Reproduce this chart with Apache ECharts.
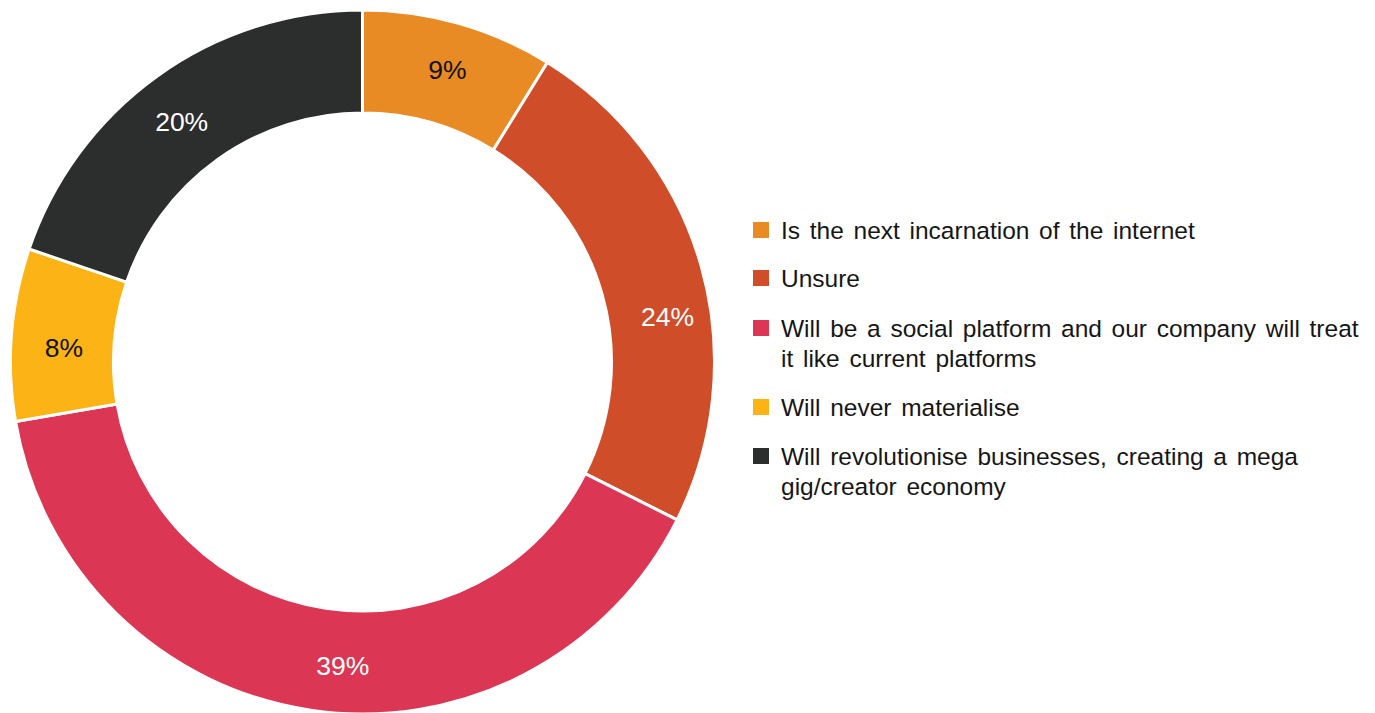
<!DOCTYPE html>
<html>
<head>
<meta charset="utf-8">
<script src="https://cdn.jsdelivr.net/npm/echarts@6/dist/echarts.min.js"></script>
<style>
html,body{margin:0;padding:0;background:#fff;}
#c{width:1375px;height:713px;}
#c text{word-spacing:2.9px;}
</style>
</head>
<body>
<div id="c"></div>
<script>
const categories = [
  'Is the next incarnation of the internet',
  'Unsure',
  'Will be a social platform and our company will treat it like current platforms',
  'Will never materialise',
  'Will revolutionise businesses, creating a mega gig/creator economy'
];
// legend text as wrapped in the reference (leading break keeps the first line level with the square)
const legendLabels = [
  'Is the next incarnation of the internet',
  'Unsure',
  '\nWill be a social platform and our company will treat\nit like current platforms',
  'Will never materialise',
  '\nWill revolutionise businesses, creating a mega\ngig/creator economy'
];
// slice sizes read from the arcs (percent)
const values = [8.8, 23.6, 39.9, 7.9, 19.8];
// percentages printed on the slices
const sliceLabels = ['9%', '24%', '39%', '8%', '20%'];
const colors = ['#E98B25', '#D04D29', '#DB3654', '#FBB316', '#2C2E2E'];
const labelColors = ['#111111', '#ffffff', '#ffffff', '#111111', '#ffffff'];
const labelShift = [[2, 0], [13, 38], [25, 4], [4, 10], [-4, 7]];

const FONT = '"Liberation Sans", Arial, Helvetica, sans-serif';
const legendCenters = [230, 278, 328, 407, 456];

const legends = categories.map((name, i) => {
  const twoLine = legendLabels[i].indexOf('\n') >= 0;
  return {
    show: true,
    orient: 'vertical',
    left: 753,
    top: twoLine ? legendCenters[i] - 45 : legendCenters[i] - 15,
    padding: 0,
    itemWidth: 16,
    itemHeight: 16,
    icon: 'rect',
    selectedMode: false,
    itemStyle: { borderWidth: 0 },
    data: [name],
    formatter: (n) => legendLabels[categories.indexOf(n)],
    textStyle: {
      fontFamily: FONT,
      fontSize: 24.5,
      lineHeight: 30,
      color: '#161616',
      padding: [0, 0, 0, 7]
    }
  };
});

const chart = echarts.init(document.getElementById('c'), null, { renderer: 'svg' });
chart.setOption({
  animation: false,
  backgroundColor: '#ffffff',
  color: colors,
  legend: legends,
  series: [{
    type: 'pie',
    center: [362.5, 362],
    radius: [249, 352],
    startAngle: 90,
    clockwise: true,
    avoidLabelOverlap: false,
    itemStyle: { borderColor: '#ffffff', borderWidth: 3 },
    label: {
      show: true,
      position: 'inside',
      fontFamily: FONT,
      fontSize: 26.5,
      formatter: (p) => sliceLabels[p.dataIndex]
    },
    labelLayout: (p) => ({ dx: labelShift[p.dataIndex][0], dy: labelShift[p.dataIndex][1] }),
    labelLine: { show: false },
    emphasis: { disabled: true },
    data: categories.map((name, i) => ({
      name: name,
      value: values[i],
      itemStyle: { color: colors[i] },
      label: { color: labelColors[i] }
    }))
  }]
});
</script>
</body>
</html>
